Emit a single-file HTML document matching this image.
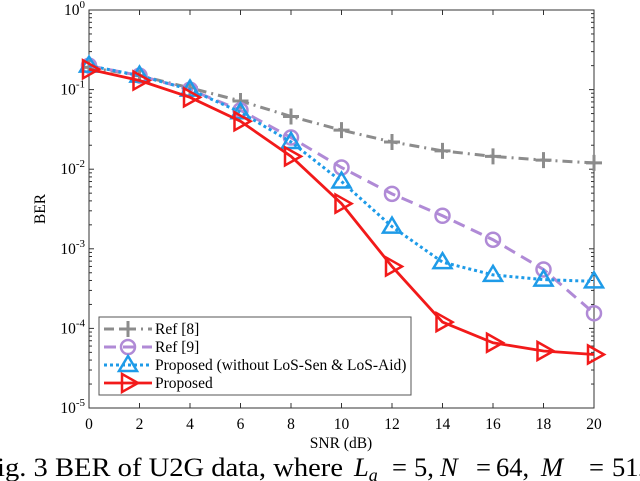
<!DOCTYPE html>
<html><head><meta charset="utf-8"><style>
body{margin:0;background:#fff;width:640px;height:481px;overflow:hidden}
svg{display:block;font-family:"Liberation Serif",serif}
</style></head><body>
<svg id="chart" width="640" height="481">
<g id="grid"></g>
<g id="series"></g>
<g id="legend"></g>
<text x="341" y="448" font-size="15.5" text-anchor="middle">SNR (dB)</text>
<text x="45" y="209" font-size="15.5" text-anchor="middle" transform="rotate(-90 45 209)">BER</text>
<g font-size="26.5">
<text x="-3" y="476" textLength="346" lengthAdjust="spacingAndGlyphs">ig. 3 BER of U2G data, where</text>
<text y="476"><tspan x="354" font-style="italic">L</tspan><tspan font-style="italic" font-size="18" dy="5">a</tspan><tspan x="392" dy="-5">=</tspan><tspan x="414">5,</tspan><tspan x="440" font-style="italic">N</tspan><tspan x="476">=</tspan><tspan x="496">64,</tspan><tspan x="541" font-style="italic">M</tspan><tspan x="589">=</tspan><tspan x="612">512</tspan></text>
</g>
</svg>
<script>
const snr=[0,2,4,6,8,10,12,14,16,18,20];
const ref8=[0.19,0.15,0.105,0.072,0.046,0.031,0.022,0.017,0.0145,0.013,0.012];
const ref9=[0.2,0.15,0.1,0.055,0.025,0.0105,0.0049,0.0026,0.0013,0.00055,0.000155];
const propNoLos=[0.2,0.15,0.1,0.052,0.022,0.007,0.0019,0.00068,0.00047,0.00041,0.00039];
const proposed=[0.18,0.13,0.08,0.04,0.0145,0.0037,0.0006,0.00012,0.000066,0.000052,0.000047];
const xTicks=[0,2,4,6,8,10,12,14,16,18,20];
const yDecades=[0,-1,-2,-3,-4,-5];
const NS="http://www.w3.org/2000/svg";
const L=89,R=594,T=10,B=408;
const xs=v=>L+(v-0)/20*(R-L);
const ys=v=>T+(-Math.log10(v))/5*(B-T);
function mk(t,a,p){const e=document.createElementNS(NS,t);for(const k in a)e.setAttribute(k,a[k]);p.appendChild(e);return e;}
const g=document.getElementById('grid');
const ax=mk('rect',{x:L,y:T,width:R-L,height:B-T,fill:'none',stroke:'#333','stroke-width':1},g);


xTicks.forEach(t=>{const x=xs(t);
mk('line',{x1:x,x2:x,y1:B,y2:B-5,stroke:'#333'},g);
mk('line',{x1:x,x2:x,y1:T,y2:T+5,stroke:'#333'},g);
const tx=mk('text',{x:x,y:B+21,'font-size':15.5,'text-anchor':'middle'},g);tx.textContent=t;


});
yDecades.forEach(d=>{const y=ys(Math.pow(10,d));
mk('line',{x1:L,x2:L+5,y1:y,y2:y,stroke:'#333'},g);
mk('line',{x1:R,x2:R-5,y1:y,y2:y,stroke:'#333'},g);
const tx=mk('text',{x:L-4,y:y+5,'font-size':15.5,'text-anchor':'end'},g);
tx.innerHTML='10<tspan font-size="11" dy="-7">'+d+'</tspan>';


if(d>-5)for(let m=2;m<10;m++){const yy=ys(m*Math.pow(10,d-1));
mk('line',{x1:L,x2:L+3,y1:yy,y2:yy,stroke:'#333'},g);
mk('line',{x1:R,x2:R-3,y1:yy,y2:yy,stroke:'#333'},g);}
});
const sg=document.getElementById('series');
function marker(type,x,y,c,p){
 if(type==='plus'){mk('path',{d:`M${x-8} ${y}H${x+8}M${x} ${y-8}V${y+8}`,stroke:c,'stroke-width':3,fill:'none'},p);}
 else if(type==='circle'){mk('circle',{cx:x,cy:y,r:7,stroke:c,'stroke-width':2.5,fill:'none'},p);}
 else if(type==='tri'){mk('path',{d:`M${x} ${y-9}L${x+9} ${y+6}L${x-9} ${y+6}Z`,stroke:c,'stroke-width':2.5,fill:'none'},p);}
 else {mk('path',{d:`M${x-6} ${y-9}L${x+10} ${y}L${x-6} ${y+9}Z`,stroke:c,'stroke-width':2.5,fill:'none'},p);}
}
const series=[
 {name:'ref-8',data:ref8,c:'#8c8c8c',dash:'10 5 2 5',w:3,m:'plus',label:'Ref [8]'},
 {name:'ref-9',data:ref9,c:'#b08ad6',dash:'12 7',w:3,m:'circle',label:'Ref [9]'},
 {name:'proposed-no-los',data:propNoLos,c:'#1e9be8',dash:'3 3',w:3,m:'tri',label:'Proposed (without LoS-Sen & LoS-Aid)'},
 {name:'proposed',data:proposed,c:'#f21a1a',dash:'',w:2.8,m:'rtri',label:'Proposed'}];
series.forEach(s=>{
 const grp=mk('g',{},sg);
 
 
 const pts=snr.map((v,i)=>xs(v)+','+ys(s.data[i])).join(' ');
 const pl=mk('polyline',{points:pts,fill:'none',stroke:s.c,'stroke-width':s.w,'stroke-dasharray':s.dash},grp);
 
 
 snr.forEach((v,i)=>marker(s.m,xs(v),ys(s.data[i]),s.c,grp));
});
const lg=document.getElementById('legend');
const lb=mk('rect',{x:99,y:317,width:312,height:78,fill:'#fff',stroke:'#555','stroke-width':1},lg);


series.forEach((s,i)=>{const y=329+i*18;
 const e=mk('g',{},lg);
 
 
 mk('line',{x1:104,x2:152,y1:y,y2:y,stroke:s.c,'stroke-width':s.w,'stroke-dasharray':s.dash},e);
 marker(s.m,128,y,s.c,e);
 const t=mk('text',{x:155,y:y+5,'font-size':15.5},e);t.textContent=s.label;
});
</script>
</body></html>
